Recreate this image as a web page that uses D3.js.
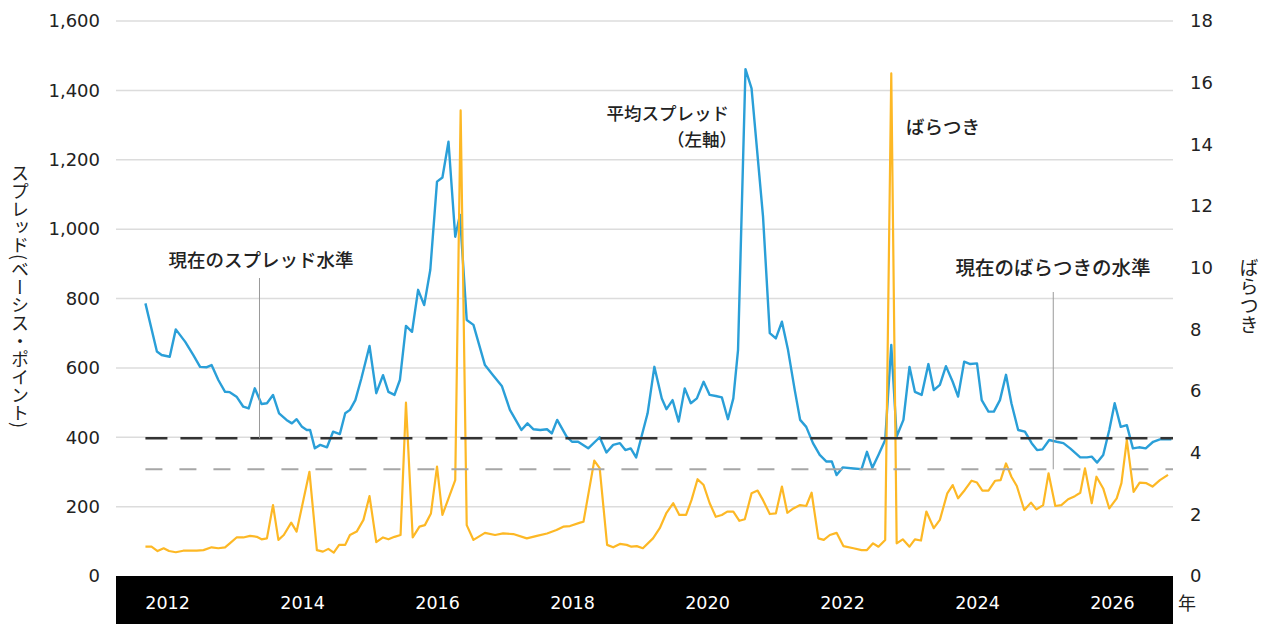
<!DOCTYPE html>
<html>
<head>
<meta charset="utf-8">
<script src="https://cdn.jsdelivr.net/npm/d3@7"></script>
<style>
    body { margin: 0; background: #fff; }
    svg { display: block; }
    .jp { font-family: "Noto Sans CJK JP", sans-serif; fill: #222; }
    .num { font-family: "DejaVu Sans", Verdana, sans-serif; fill: #222; }
</style>
</head>
<body>
<div id="chart"></div>
<script>
// spread (bp, left axis) - decimal year / value pairs
const spreadYears = [2011.68, 2011.85, 2011.92, 2012.04, 2012.13, 2012.27, 2012.39, 2012.49, 2012.59, 2012.66,
    2012.76, 2012.86, 2012.93, 2013.03, 2013.13, 2013.21, 2013.30, 2013.40, 2013.48, 2013.57,
    2013.66, 2013.77, 2013.85, 2013.92, 2014.00, 2014.07, 2014.12, 2014.19, 2014.27, 2014.37,
    2014.46, 2014.56, 2014.64, 2014.71, 2014.79, 2014.88, 2015.00, 2015.10, 2015.20, 2015.28,
    2015.37, 2015.45, 2015.54, 2015.63, 2015.72, 2015.81, 2015.90, 2016.00, 2016.08, 2016.17,
    2016.27, 2016.34, 2016.44, 2016.54, 2016.71, 2016.83, 2016.96, 2017.08, 2017.25, 2017.34,
    2017.43, 2017.53, 2017.63, 2017.70, 2017.78, 2017.92, 2018.00, 2018.09, 2018.24, 2018.41,
    2018.51, 2018.61, 2018.71, 2018.79, 2018.87, 2018.95, 2019.03, 2019.12, 2019.22, 2019.33,
    2019.40, 2019.49, 2019.58, 2019.67, 2019.76, 2019.85, 2019.95, 2020.04, 2020.13, 2020.22,
    2020.31, 2020.39, 2020.46, 2020.57, 2020.66, 2020.83, 2020.93, 2021.02, 2021.11, 2021.20,
    2021.30, 2021.38, 2021.47, 2021.57, 2021.67, 2021.77, 2021.85, 2021.92, 2022.01, 2022.17,
    2022.29, 2022.37, 2022.45, 2022.54, 2022.64, 2022.73, 2022.81, 2022.91, 2023.00, 2023.08,
    2023.18, 2023.28, 2023.36, 2023.45, 2023.54, 2023.64, 2023.72, 2023.81, 2023.90, 2024.00,
    2024.07, 2024.17, 2024.25, 2024.34, 2024.43, 2024.51, 2024.61, 2024.71, 2024.81, 2024.89,
    2024.97, 2025.07, 2025.18, 2025.28, 2025.38, 2025.53, 2025.63, 2025.70, 2025.78, 2025.87,
    2025.96, 2026.04, 2026.13, 2026.22, 2026.31, 2026.40, 2026.50, 2026.61, 2026.71, 2026.88];
const spreadValues = [786, 647, 637, 632, 711, 675, 637, 603, 602, 608,
    565, 531, 530, 517, 488, 483, 541, 496, 498, 522,
    469, 450, 440, 452, 430, 421, 421, 368, 378, 371,
    416, 409, 469, 479, 507, 570, 663, 527, 579, 531,
    522, 565, 721, 704, 825, 781, 882, 1137, 1149, 1252,
    978, 1041, 738, 724, 608, 579, 548, 479, 421, 440,
    423, 421, 423, 411, 450, 402, 387, 387, 368, 400,
    356, 378, 383, 363, 368, 342, 402, 469, 603, 512,
    481, 507, 445, 541, 498, 512, 560, 522, 519, 515,
    452, 512, 652, 1461, 1406, 1036, 700, 685, 733, 652,
    536, 450, 430, 383, 349, 330, 330, 291, 313, 310,
    308, 358, 312, 349, 392, 666, 402, 450, 603, 531,
    522, 611, 536, 551, 605, 560, 517, 618, 611, 613,
    507, 474, 474, 507, 580, 498, 421, 416, 383, 363,
    365, 392, 387, 383, 368, 342, 342, 344, 327, 349,
    421, 498, 430, 435, 368, 371, 368, 387, 394, 394];

// dispersion (right axis)
const dispYears = [2011.68, 2011.77, 2011.86, 2011.95, 2012.03, 2012.13, 2012.24, 2012.34, 2012.44, 2012.54,
    2012.66, 2012.76, 2012.86, 2012.93, 2013.03, 2013.13, 2013.23, 2013.33, 2013.40, 2013.48,
    2013.57, 2013.65, 2013.73, 2013.84, 2013.92, 2014.11, 2014.22, 2014.31, 2014.39, 2014.47,
    2014.55, 2014.64, 2014.71, 2014.81, 2014.91, 2015.00, 2015.10, 2015.20, 2015.28, 2015.37,
    2015.46, 2015.54, 2015.64, 2015.74, 2015.82, 2015.91, 2016.00, 2016.08, 2016.27, 2016.35,
    2016.44, 2016.54, 2016.71, 2016.86, 2016.98, 2017.13, 2017.33, 2017.48, 2017.63, 2017.77,
    2017.87, 2017.97, 2018.12, 2018.17, 2018.33, 2018.41, 2018.52, 2018.61, 2018.71, 2018.81,
    2018.88, 2018.96, 2019.05, 2019.20, 2019.30, 2019.40, 2019.50, 2019.59, 2019.69, 2019.77,
    2019.86, 2019.95, 2020.04, 2020.13, 2020.22, 2020.30, 2020.39, 2020.48, 2020.56, 2020.66,
    2020.75, 2020.83, 2020.93, 2021.02, 2021.11, 2021.19, 2021.28, 2021.38, 2021.47, 2021.55,
    2021.65, 2021.73, 2021.82, 2021.92, 2022.02, 2022.17, 2022.29, 2022.37, 2022.46, 2022.54,
    2022.64, 2022.73, 2022.81, 2022.90, 2023.00, 2023.08, 2023.17, 2023.25, 2023.36, 2023.45,
    2023.56, 2023.64, 2023.72, 2023.82, 2023.92, 2024.00, 2024.08, 2024.17, 2024.27, 2024.35,
    2024.43, 2024.51, 2024.59, 2024.70, 2024.80, 2024.88, 2024.98, 2025.06, 2025.16, 2025.25,
    2025.35, 2025.45, 2025.53, 2025.60, 2025.70, 2025.77, 2025.87, 2025.96, 2026.07, 2026.14,
    2026.22, 2026.32, 2026.41, 2026.51, 2026.60, 2026.71, 2026.83];
const dispValues = [0.95, 0.95, 0.81, 0.90, 0.81, 0.77, 0.82, 0.82, 0.82, 0.84,
    0.93, 0.90, 0.93, 1.06, 1.25, 1.25, 1.30, 1.27, 1.19, 1.22,
    2.30, 1.17, 1.33, 1.73, 1.44, 3.38, 0.84, 0.79, 0.88, 0.76,
    1.01, 1.01, 1.33, 1.44, 1.82, 2.59, 1.10, 1.25, 1.19, 1.27,
    1.33, 5.62, 1.25, 1.60, 1.65, 2.03, 3.55, 1.98, 3.11, 15.1,
    1.65, 1.17, 1.40, 1.33, 1.38, 1.36, 1.22, 1.30, 1.38, 1.49,
    1.60, 1.62, 1.73, 1.76, 3.74, 3.50, 1.01, 0.93, 1.04, 1.01,
    0.95, 0.97, 0.90, 1.22, 1.55, 2.05, 2.36, 1.98, 1.98, 2.46,
    3.14, 2.95, 2.36, 1.92, 1.98, 2.09, 2.09, 1.79, 1.84, 2.68,
    2.77, 2.46, 2.01, 2.03, 2.90, 2.05, 2.19, 2.30, 2.27, 2.70,
    1.22, 1.17, 1.33, 1.40, 0.97, 0.90, 0.84, 0.84, 1.06, 0.95,
    1.17, 16.3, 1.06, 1.19, 0.95, 1.19, 1.15, 2.09, 1.55, 1.82,
    2.68, 2.95, 2.52, 2.79, 3.09, 3.03, 2.77, 2.77, 3.09, 3.11,
    3.65, 3.22, 2.92, 2.14, 2.38, 2.16, 2.30, 3.33, 2.27, 2.30,
    2.49, 2.59, 2.70, 3.49, 2.36, 3.22, 2.84, 2.19, 2.52, 3.01,
    4.41, 2.73, 3.03, 3.01, 2.90, 3.11, 3.28];

const yearTicks = [2012, 2014, 2016, 2018, 2020, 2022, 2024, 2026];
const leftTicks = [0, 200, 400, 600, 800, 1000, 1200, 1400, 1600];
const rightTicks = [0, 2, 4, 6, 8, 10, 12, 14, 16, 18];

const currentSpread = 397;      // black dashed line (left axis)
const currentDispersion = 3.46; // grey dashed line (right axis)
const dashStart = 2011.68;

const annotSpreadYear = 2013.37;
const annotDispYear = 2025.13;

const W = 1269, H = 624;
const plotLeft = 116, plotRight = 1173, plotTop = 21, plotBottom = 576;

const svg = d3.select("#chart").append("svg")
    .attr("width", W)
    .attr("height", H);

const x = d3.scaleLinear().domain([2011.244, 2026.904]).range([plotLeft, plotRight]);
const yL = d3.scaleLinear().domain([0, 1600]).range([plotBottom, plotTop]);
const yR = d3.scaleLinear().domain([0, 18]).range([plotBottom, plotTop]);

// gridlines
svg.append("g")
    .selectAll("line")
    .data(leftTicks.filter(d => d > 0))
    .join("line")
    .attr("x1", plotLeft)
    .attr("x2", plotRight)
    .attr("y1", d => yL(d))
    .attr("y2", d => yL(d))
    .style("stroke", "#dcdcdc")
    .style("stroke-width", "1.5px");

// black band under the plot holding the years
svg.append("rect")
    .attr("x", plotLeft)
    .attr("y", plotBottom)
    .attr("width", plotRight - plotLeft)
    .attr("height", H - plotBottom)
    .attr("fill", "#000");

const xAxis = svg.append("g")
    .attr("transform", `translate(0,${plotBottom})`)
    .call(d3.axisBottom(x).tickValues(yearTicks).tickFormat(d3.format("d")).tickSize(0));
xAxis.select(".domain").remove();
xAxis.selectAll("text")
    .attr("class", "num")
    .attr("y", 27)
    .attr("dy", "0.35em")
    .style("fill", "#fff")
    .style("font-size", "17.5px");

// left axis
const leftAxis = svg.append("g")
    .attr("transform", `translate(${plotLeft},0)`)
    .call(d3.axisLeft(yL).tickValues(leftTicks).tickFormat(d3.format(",")).tickSize(0).tickPadding(16));
leftAxis.select(".domain").remove();
leftAxis.selectAll("text")
    .attr("class", "num")
    .style("font-size", "18px");

// right axis
const rightAxis = svg.append("g")
    .attr("transform", `translate(${plotRight},0)`)
    .call(d3.axisRight(yR).tickValues(rightTicks).tickSize(0).tickPadding(17));
rightAxis.select(".domain").remove();
rightAxis.selectAll("text")
    .attr("class", "num")
    .style("font-size", "18px");

// lines
const spreadLine = d3.line()
    .x((d, i) => x(spreadYears[i]))
    .y(d => yL(d));
const dispLine = d3.line()
    .x((d, i) => x(dispYears[i]))
    .y(d => yR(d));

svg.append("path")
    .datum(spreadValues)
    .attr("d", spreadLine)
    .attr("fill", "none")
    .style("stroke", "#2a9fd8")
    .style("stroke-width", "2.4px")
    .style("stroke-linejoin", "round");

svg.append("path")
    .datum(dispValues)
    .attr("d", dispLine)
    .attr("fill", "none")
    .style("stroke", "#fdb825")
    .style("stroke-width", "2.2px")
    .style("stroke-linejoin", "round");

// current level dashed lines
svg.append("line")
    .attr("x1", x(dashStart))
    .attr("x2", plotRight)
    .attr("y1", yL(currentSpread))
    .attr("y2", yL(currentSpread))
    .style("stroke", "#333")
    .style("stroke-width", "2.5px")
    .style("stroke-dasharray", "22,13");

svg.append("line")
    .attr("x1", x(dashStart))
    .attr("x2", plotRight)
    .attr("y1", yR(currentDispersion))
    .attr("y2", yR(currentDispersion))
    .style("stroke", "#a6a6a6")
    .style("stroke-width", "2px")
    .style("stroke-dasharray", "17,17");

// annotation leader lines
svg.append("line")
    .attr("x1", x(annotSpreadYear))
    .attr("x2", x(annotSpreadYear))
    .attr("y1", 278)
    .attr("y2", yL(currentSpread))
    .style("stroke", "#999")
    .style("stroke-width", "1px");

svg.append("line")
    .attr("x1", x(annotDispYear))
    .attr("x2", x(annotDispYear))
    .attr("y1", 292)
    .attr("y2", yR(currentDispersion))
    .style("stroke", "#999")
    .style("stroke-width", "1px");

// labels
function label(txt, px, py, anchor, size) {
    return svg.append("text")
        .attr("class", "jp")
        .attr("x", px)
        .attr("y", py)
        .attr("dy", "0.35em")
        .attr("text-anchor", anchor)
        .style("font-size", size + "px")
        .style("font-weight", 500)
        .text(txt);
}

label("現在のスプレッド水準", 261, 261, "middle", 18.5);
label("平均スプレッド", 729, 114, "end", 17.5);
label("（左軸）", 737, 140, "end", 17.5);
label("ばらつき", 906, 128, "start", 18.5);
label("現在のばらつきの水準", 1053, 268, "middle", 19.5);

svg.append("text")
    .attr("class", "jp")
    .attr("x", 1187)
    .attr("y", 604)
    .attr("dy", "0.35em")
    .attr("text-anchor", "middle")
    .style("font-size", "18px")
    .text("年");

// vertical axis titles
svg.append("text")
    .attr("class", "jp")
    .attr("x", 20)
    .attr("y", 296)
    .attr("text-anchor", "middle")
    .style("writing-mode", "vertical-rl")
    .style("font-size", "18px")
    .text("スプレッド(ベーシス・ポイント)");

svg.append("text")
    .attr("class", "jp")
    .attr("x", 1249)
    .attr("y", 296)
    .attr("text-anchor", "middle")
    .style("writing-mode", "vertical-rl")
    .style("font-size", "19px")
    .text("ばらつき");
</script>
</body>
</html>
